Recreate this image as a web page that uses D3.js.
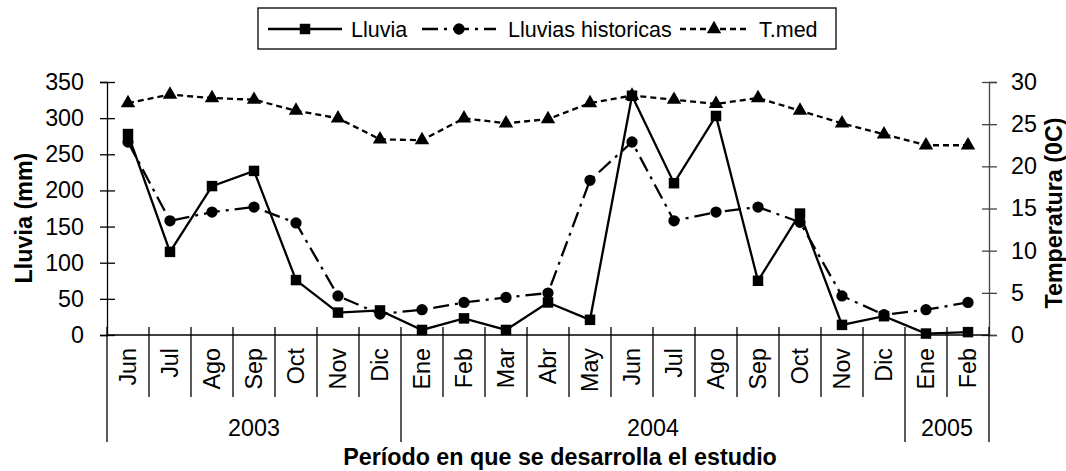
<!DOCTYPE html>
<html>
<head>
<meta charset="utf-8">
<script src="https://cdn.jsdelivr.net/npm/d3@7"></script>
<style>
	body { margin: 0; background: #fff; }
	text { font-family: 'Liberation Sans', Arial, sans-serif; fill: #000; }
</style>
</head>
<body>
<div class="chart"></div>
<script>
const months = ['Jun','Jul','Ago','Sep','Oct','Nov','Dic','Ene','Feb','Mar','Abr','May','Jun','Jul','Ago','Sep','Oct','Nov','Dic','Ene','Feb']
const years = ['2003','2004','2005']
const yearSpans = [7, 12, 2]
const lluvia = [278, 115, 206, 227, 76, 31, 34, 7, 23, 7, 45, 21, 331, 210, 303, 75, 168, 14, 26, 2, 4]
const historicas = [267, 158, 170, 177, 155, 54, 29, 35, 45, 52, 58, 214, 267, 158, 170, 177, 156, 54, 28, 35, 45]
const tmed = [27.5, 28.5, 28.1, 27.9, 26.6, 25.7, 23.2, 23.1, 25.7, 25.1, 25.6, 27.5, 28.4, 27.9, 27.4, 28.1, 26.6, 25.1, 23.8, 22.5, 22.5]
const leftTicks = [0, 50, 100, 150, 200, 250, 300, 350]
const rightTicks = [0, 5, 10, 15, 20, 25, 30]

const width = 1066
const height = 471
const plotLeft = 107
const plotRight = 989
const plotTop = 82
const plotBottom = 335
const fs = '23.3px'

const svg = d3.select('.chart')
	.append('svg')
	.attr('width', width)
	.attr('height', height)

const idx = months.map((m, i) => i)

const xScale = d3.scaleBand()
	.domain(idx)
	.range([ plotLeft, plotRight ])

const yLeft = d3.scaleLinear()
	.domain([ 0, 350 ])
	.range([ plotBottom, plotTop ])

const yRight = d3.scaleLinear()
	.domain([ 0, 30 ])
	.range([ plotBottom, plotTop ])

const cx = i => xScale(i) + xScale.bandwidth() / 2

// left axis with cross ticks
const gl = svg.append('g')
	.attr('transform', 'translate(' + plotLeft + ',0)')
	.call(d3.axisLeft(yLeft).tickValues(leftTicks).tickSize(7).tickPadding(16))
gl.select('.domain').attr('stroke', '#000').attr('stroke-width', 1.3)
gl.selectAll('.tick line').attr('x1', 8).attr('stroke', '#000').attr('stroke-width', 1.3)
gl.selectAll('.tick text').style('font-size', fs).style('font-family', 'Liberation Sans, Arial, sans-serif')

// right axis
const gr = svg.append('g')
	.attr('transform', 'translate(' + plotRight + ',0)')
	.call(d3.axisRight(yRight).tickValues(rightTicks).tickSize(8).tickPadding(14))
gr.select('.domain').attr('stroke', '#444').attr('stroke-width', 1.3)
gr.selectAll('.tick line').attr('x1', -7).attr('stroke', '#444').attr('stroke-width', 1.3)
gr.selectAll('.tick text').style('font-size', fs).style('font-family', 'Liberation Sans, Arial, sans-serif')

// category axis
svg.append('line')
	.attr('x1', plotLeft).attr('x2', plotRight)
	.attr('y1', plotBottom).attr('y2', plotBottom)
	.attr('stroke', '#000').attr('stroke-width', 1.3)

const bounds = idx.map(i => xScale(i)).concat([ plotRight ])
let yearEdges = [0]
yearSpans.forEach(s => yearEdges.push(yearEdges[yearEdges.length - 1] + s))

svg.selectAll('.cat-tick')
	.data(bounds)
	.enter()
	.append('line')
	.attr('class', 'cat-tick')
	.attr('x1', d => d).attr('x2', d => d)
	.attr('y1', plotBottom - 8)
	.attr('y2', (d, i) => yearEdges.indexOf(i) >= 0 ? 442 : 397)
	.attr('stroke', '#000').attr('stroke-width', 1.3)

svg.selectAll('.month')
	.data(months)
	.enter()
	.append('text')
	.attr('class', 'month')
	.attr('transform', (d, i) => 'translate(' + cx(i) + ',348) rotate(-90)')
	.attr('dy', '0.35em')
	.attr('text-anchor', 'end')
	.style('font-size', fs)
	.text(d => d)

svg.selectAll('.year')
	.data(years)
	.enter()
	.append('text')
	.attr('class', 'year')
	.attr('x', (d, i) => (bounds[yearEdges[i]] + bounds[yearEdges[i + 1]]) / 2)
	.attr('y', 436)
	.attr('text-anchor', 'middle')
	.style('font-size', fs)
	.text(d => d)

// axis titles
svg.append('text')
	.attr('x', 560).attr('y', 465)
	.attr('text-anchor', 'middle')
	.style('font-size', fs).style('font-weight', 'bold')
	.text('Período en que se desarrolla el estudio')

svg.append('text')
	.attr('transform', 'translate(24,218) rotate(-90)')
	.attr('dy', '0.35em')
	.attr('text-anchor', 'middle')
	.style('font-size', fs).style('font-weight', 'bold')
	.text('Lluvia (mm)')

svg.append('text')
	.attr('transform', 'translate(1054,213) rotate(-90)')
	.attr('dy', '0.35em')
	.attr('text-anchor', 'middle')
	.style('font-size', fs).style('font-weight', 'bold')
	.text('Temperatura (0C)')

// series
const series = [
	{ name: 'Lluvia', values: lluvia, y: yLeft, dash: null, marker: 'square' },
	{ name: 'Lluvias historicas', values: historicas, y: yLeft, dash: '16,6,3,6', marker: 'circle' },
	{ name: 'T.med', values: tmed, y: yRight, dash: '6,4', marker: 'triangle' }
]

const symbolFor = m => {
	if (m === 'square') return d3.symbol().type(d3.symbolSquare).size(110)
	if (m === 'circle') return d3.symbol().type(d3.symbolCircle).size(100)
	return d3.symbol().type(d3.symbolTriangle).size(90)
}

series.forEach(s => {
	const line = d3.line()
		.x((d, i) => cx(i))
		.y(d => s.y(d))
	svg.append('path')
		.datum(s.values)
		.attr('d', line)
		.attr('fill', 'none')
		.attr('stroke', '#000')
		.attr('stroke-width', 2.3)
		.attr('stroke-dasharray', s.dash)
	svg.selectAll('.m-' + s.marker)
		.data(s.values)
		.enter()
		.append('path')
		.attr('class', 'm-' + s.marker)
		.attr('d', symbolFor(s.marker))
		.attr('transform', (d, i) => 'translate(' + cx(i) + ',' + s.y(d) + ')')
		.attr('fill', '#000')
})

// legend
const legend = svg.append('g')
legend.append('rect')
	.attr('x', 258).attr('y', 8)
	.attr('width', 578).attr('height', 41)
	.attr('fill', '#fff').attr('stroke', '#000').attr('stroke-width', 1.3)

const sampleX = [ [268, 342], [422, 496], [680, 750] ]
const markerX = [305, 459, 714]
const textX = [351, 508, 759]
series.forEach((s, i) => {
	legend.append('line')
		.attr('x1', sampleX[i][0]).attr('x2', sampleX[i][1])
		.attr('y1', 29).attr('y2', 29)
		.attr('stroke', '#000').attr('stroke-width', 2.3)
		.attr('stroke-dasharray', s.dash)
	legend.append('path')
		.attr('d', symbolFor(s.marker))
		.attr('transform', 'translate(' + markerX[i] + ',29)')
		.attr('fill', '#000')
	legend.append('text')
		.attr('x', textX[i]).attr('y', 29)
		.attr('dy', '0.35em')
		.style('font-size', '21.5px')
		.text(s.name)
})
</script>
</body>
</html>
